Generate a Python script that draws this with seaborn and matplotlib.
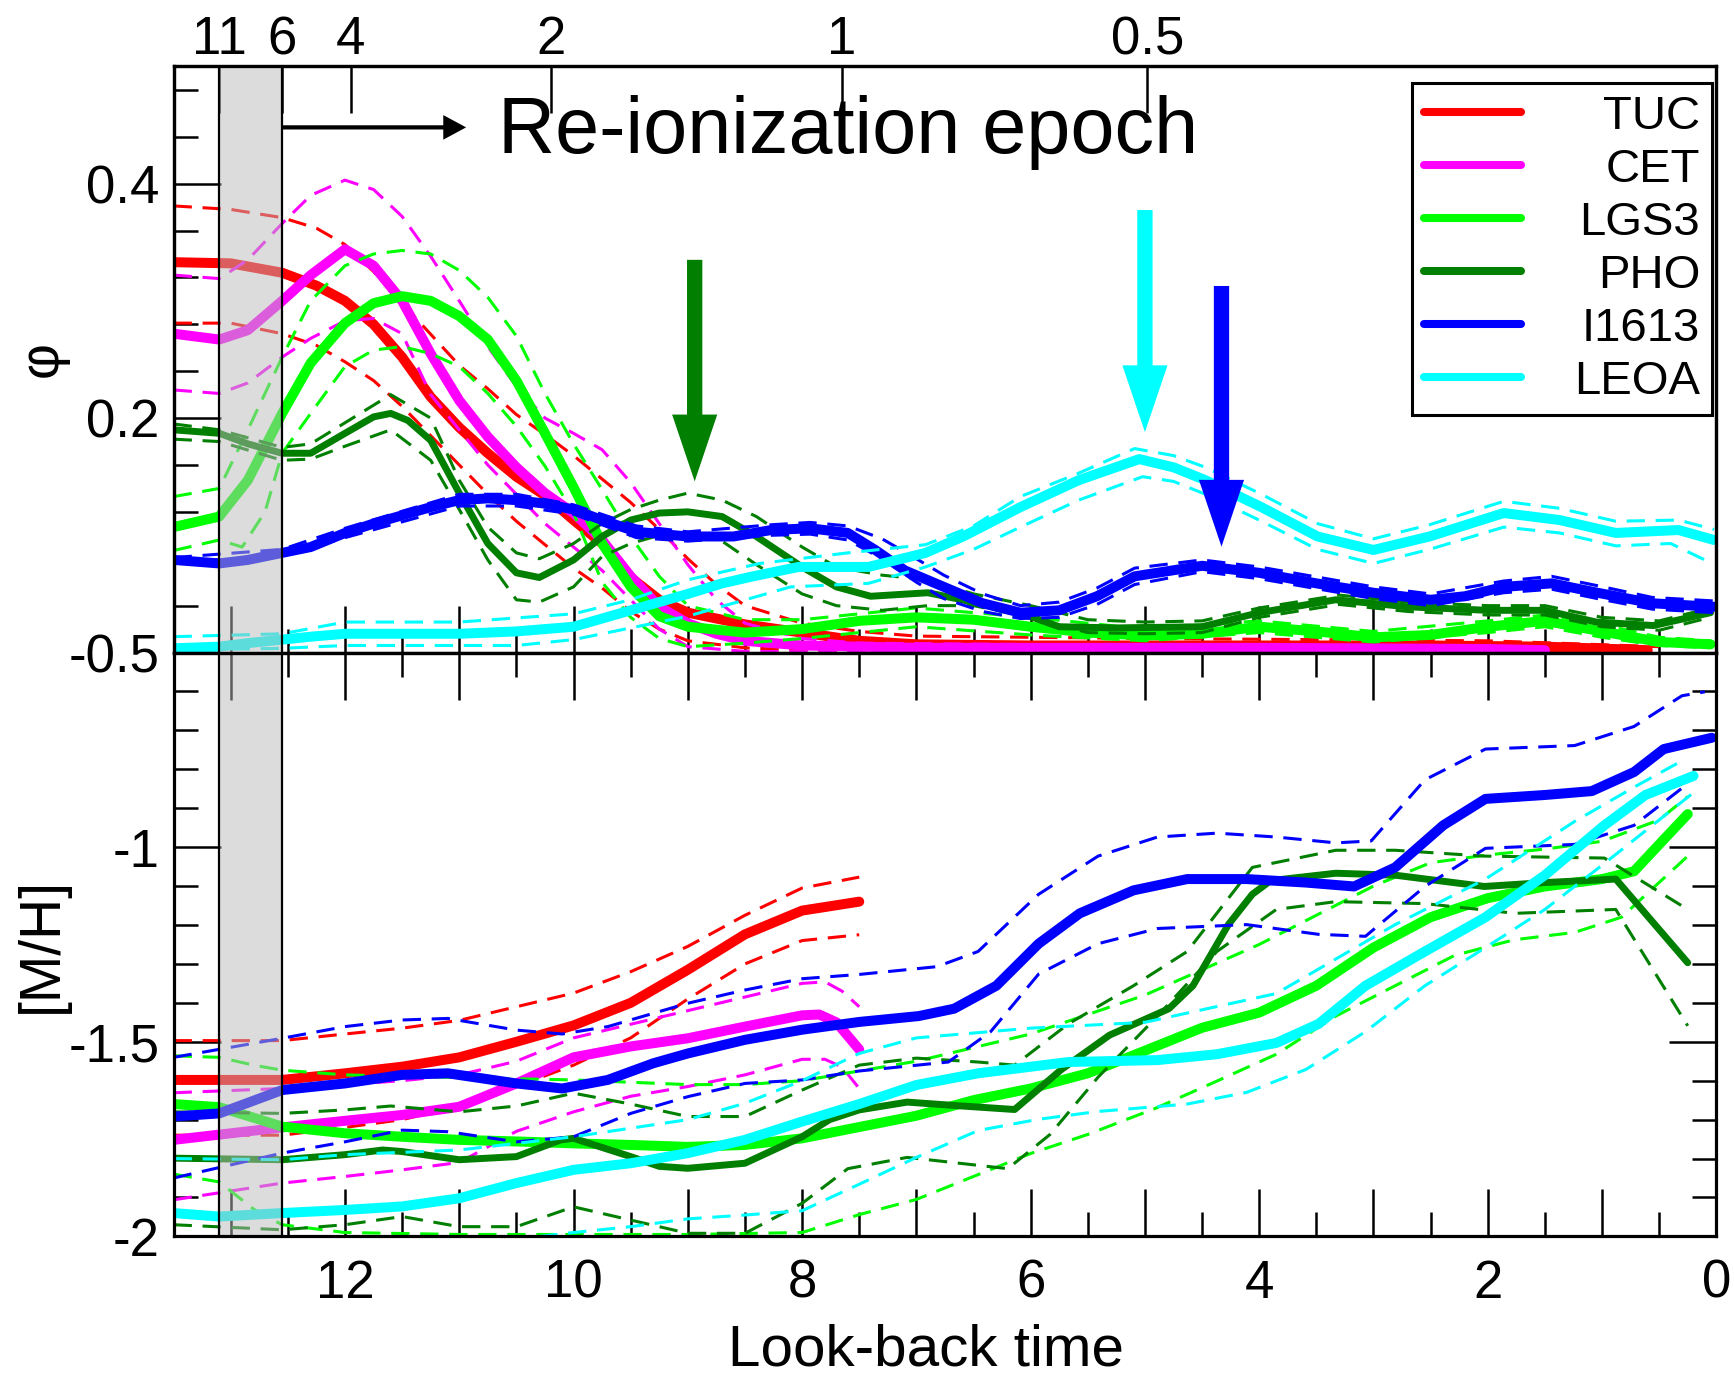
import matplotlib
matplotlib.use("Agg")
import matplotlib.pyplot as plt
from matplotlib.lines import Line2D
from matplotlib.ticker import MultipleLocator, FuncFormatter, NullLocator
import seaborn as sns

sns.set_theme(style="white")
plt.rcParams["font.family"] = ["Liberation Sans", "DejaVu Sans"]
plt.rcParams["axes.unicode_minus"] = False
for key in ("text.color", "axes.labelcolor", "xtick.color", "ytick.color", "axes.edgecolor"):
    plt.rcParams[key] = "black"

# ---------------- data (look-back time [Gyr], value) ----------------
names = ["TUC", "CET", "LGS3", "PHO", "I1613", "LEOA"]
colors = ["#ff0000", "#ff00ff", "#00ff00", "#007f00", "#0000ff", "#00ffff"]

# top axis: redshift labels and their look-back times
z_labels = ["11", "6", "4", "2", "1", "0.5"]
z_lookback = [13.1, 12.55, 11.95, 10.2, 7.65, 4.98]
reion_start, reion_end = 13.1, 12.55

# star formation rate phi
tuc_phi = [(13.5, 0.333), (13.0, 0.332), (12.55, 0.324), (12.25, 0.313), (12.0, 0.300), (11.75, 0.280),
           (11.5, 0.252), (11.25, 0.218), (11.0, 0.192), (10.75, 0.170), (10.5, 0.150), (10.25, 0.134),
           (10.0, 0.113), (9.75, 0.093), (9.5, 0.064), (9.25, 0.045), (9.0, 0.034), (8.5, 0.024),
           (8.0, 0.017), (7.5, 0.010), (7.0, 0.007), (6.0, 0.006), (4.0, 0.006), (2.5, 0.006),
           (1.5, 0.005), (0.6, 0.002)]
tuc_phi_hi = [(13.5, 0.381), (13.0, 0.378), (12.55, 0.371), (12.25, 0.362), (12.0, 0.348), (11.75, 0.325),
              (11.5, 0.298), (11.0, 0.245), (10.75, 0.225), (10.5, 0.203), (10.25, 0.186), (10.0, 0.168),
              (9.75, 0.148), (9.5, 0.128), (9.25, 0.105), (9.0, 0.080), (8.75, 0.058), (8.5, 0.040),
              (8.0, 0.025), (7.5, 0.018), (7.0, 0.014), (5.0, 0.012), (2.0, 0.010), (0.5, 0.005)]
tuc_phi_lo = [(13.5, 0.281), (13.0, 0.281), (12.55, 0.272), (12.25, 0.262), (12.0, 0.248), (11.75, 0.232),
              (11.5, 0.210), (11.25, 0.185), (11.0, 0.160), (10.75, 0.135), (10.5, 0.112), (10.25, 0.092),
              (10.0, 0.072), (9.75, 0.055), (9.5, 0.035), (9.25, 0.020), (9.0, 0.010), (8.5, 0.004),
              (8.0, 0.002), (7.0, 0.001), (0.5, 0.0)]

cet_phi = [(13.5, 0.272), (13.1, 0.267), (12.85, 0.275), (12.55, 0.300), (12.3, 0.322), (12.0, 0.344),
           (11.75, 0.330), (11.5, 0.300), (11.25, 0.255), (11.0, 0.215), (10.75, 0.184), (10.5, 0.158),
           (10.25, 0.136), (10.0, 0.119), (9.75, 0.096), (9.5, 0.065), (9.25, 0.039), (9.0, 0.025),
           (8.75, 0.016), (8.5, 0.010), (8.0, 0.006), (7.0, 0.004), (4.0, 0.004), (2.0, 0.003), (1.5, 0.002)]
cet_phi_hi = [(13.5, 0.322), (13.1, 0.319), (12.85, 0.335), (12.55, 0.366), (12.3, 0.390), (12.0, 0.403),
              (11.75, 0.395), (11.5, 0.372), (11.25, 0.338), (11.0, 0.300), (10.75, 0.261), (10.5, 0.227),
              (10.25, 0.200), (10.0, 0.187), (9.75, 0.173), (9.5, 0.145), (9.25, 0.110), (9.0, 0.075),
              (8.75, 0.045), (8.5, 0.025), (8.0, 0.012), (7.5, 0.008), (5.0, 0.006), (2.0, 0.005)]
cet_phi_lo = [(13.5, 0.224), (13.1, 0.221), (12.85, 0.230), (12.55, 0.252), (12.3, 0.268), (12.0, 0.283),
              (11.75, 0.285), (11.5, 0.272), (11.25, 0.220), (11.0, 0.190), (10.75, 0.160), (10.5, 0.135),
              (10.25, 0.110), (10.0, 0.090), (9.75, 0.070), (9.5, 0.045), (9.25, 0.020), (9.0, 0.005),
              (8.5, 0.001), (7.0, 0.0)]

lgs3_phi = [(13.5, 0.107), (13.1, 0.116), (12.85, 0.147), (12.55, 0.204), (12.3, 0.247), (12.0, 0.281),
            (11.75, 0.298), (11.5, 0.304), (11.25, 0.300), (11.0, 0.287), (10.75, 0.267), (10.5, 0.232),
            (10.25, 0.187), (10.0, 0.141), (9.75, 0.093), (9.5, 0.056), (9.25, 0.031), (9.0, 0.022),
            (8.5, 0.017), (8.0, 0.020), (7.5, 0.027), (7.0, 0.030), (6.5, 0.028), (6.0, 0.022),
            (5.5, 0.017), (5.0, 0.0145), (4.5, 0.016), (4.0, 0.022), (3.5, 0.018), (3.0, 0.013),
            (2.5, 0.015), (2.0, 0.022), (1.5, 0.027), (1.0, 0.018), (0.5, 0.009), (0.05, 0.007)]
lgs3_phi_hi = [(13.5, 0.133), (13.1, 0.140), (12.85, 0.190), (12.55, 0.252), (12.3, 0.300), (12.0, 0.330),
               (11.75, 0.340), (11.5, 0.343), (11.25, 0.340), (11.0, 0.326), (10.75, 0.303), (10.5, 0.270),
               (10.25, 0.221), (10.0, 0.178), (9.75, 0.139), (9.5, 0.099), (9.25, 0.065), (9.0, 0.040),
               (8.5, 0.028), (8.0, 0.028), (7.0, 0.038), (6.0, 0.030), (5.0, 0.020), (4.0, 0.027),
               (3.0, 0.018), (2.0, 0.027), (1.5, 0.032), (1.0, 0.024), (0.5, 0.013), (0.05, 0.010)]
lgs3_phi_lo = [(13.5, 0.087), (13.1, 0.096), (12.9, 0.090), (12.7, 0.120), (12.55, 0.170), (12.3, 0.204),
               (12.0, 0.244), (11.75, 0.258), (11.5, 0.261), (11.25, 0.255), (11.0, 0.244), (10.75, 0.221),
               (10.5, 0.193), (10.25, 0.159), (10.0, 0.119), (9.75, 0.060), (9.5, 0.030), (9.25, 0.012),
               (9.0, 0.005), (8.5, 0.008), (8.0, 0.012), (7.0, 0.022), (6.0, 0.015), (5.0, 0.010),
               (4.0, 0.017), (3.0, 0.009), (2.0, 0.017), (1.5, 0.022), (1.0, 0.013), (0.5, 0.006), (0.05, 0.004)]

pho_phi = [(13.5, 0.190), (13.1, 0.187), (12.85, 0.178), (12.55, 0.170), (12.3, 0.170), (12.0, 0.187),
           (11.75, 0.201), (11.6, 0.204), (11.45, 0.198), (11.25, 0.181), (11.0, 0.136), (10.75, 0.093),
           (10.5, 0.068), (10.3, 0.064), (10.0, 0.079), (9.75, 0.099), (9.5, 0.113), (9.25, 0.119),
           (9.0, 0.120), (8.7, 0.116), (8.4, 0.099), (8.0, 0.073), (7.7, 0.056), (7.4, 0.048),
           (6.9, 0.051), (6.6, 0.045), (6.1, 0.034), (5.75, 0.022), (5.25, 0.021), (4.5, 0.022),
           (4.0, 0.034), (3.33, 0.045), (2.7, 0.039), (2.0, 0.036), (1.5, 0.036), (1.05, 0.026),
           (0.55, 0.023), (0.05, 0.034)]
pho_phi_hi = [(13.5, 0.195), (13.1, 0.190), (12.55, 0.175), (12.3, 0.178), (12.0, 0.196), (11.6, 0.220),
              (11.25, 0.200), (11.0, 0.147), (10.75, 0.107), (10.5, 0.085), (10.3, 0.080), (10.0, 0.093),
              (9.75, 0.110), (9.5, 0.122), (9.25, 0.130), (9.0, 0.136), (8.7, 0.130), (8.4, 0.116),
              (8.0, 0.090), (7.7, 0.073), (7.3, 0.066), (6.9, 0.062), (6.5, 0.050), (6.0, 0.040),
              (5.5, 0.028), (5.0, 0.026), (4.5, 0.027), (4.0, 0.038), (3.3, 0.049), (2.7, 0.043),
              (2.0, 0.040), (1.5, 0.040), (1.0, 0.030), (0.5, 0.027), (0.05, 0.038)]
pho_phi_lo = [(13.5, 0.182), (13.1, 0.180), (12.55, 0.164), (12.3, 0.165), (12.0, 0.176), (11.6, 0.190),
              (11.25, 0.164), (11.0, 0.122), (10.75, 0.079), (10.5, 0.045), (10.3, 0.043), (10.0, 0.056),
              (9.75, 0.082), (9.5, 0.093), (9.25, 0.100), (9.0, 0.100), (8.7, 0.095), (8.4, 0.075),
              (8.0, 0.050), (7.7, 0.040), (7.3, 0.036), (6.9, 0.040), (6.5, 0.040), (6.0, 0.030),
              (5.5, 0.017), (5.0, 0.016), (4.5, 0.017), (4.0, 0.030), (3.3, 0.041), (2.7, 0.035),
              (2.0, 0.032), (1.5, 0.032), (1.0, 0.022), (0.5, 0.019), (0.05, 0.030)]

i1613_phi = [(13.5, 0.079), (13.1, 0.076), (12.85, 0.079), (12.55, 0.085), (12.3, 0.090), (12.0, 0.102),
             (11.75, 0.110), (11.43, 0.119), (11.25, 0.124), (11.0, 0.130), (10.75, 0.1315), (10.5, 0.130),
             (10.25, 0.127), (10.0, 0.122), (9.75, 0.113), (9.45, 0.103), (9.0, 0.099), (8.6, 0.099),
             (8.27, 0.1045), (7.93, 0.106), (7.6, 0.102), (7.36, 0.0875), (7.1, 0.070), (6.76, 0.056),
             (6.42, 0.042), (6.09, 0.034), (5.75, 0.036), (5.42, 0.048), (5.09, 0.065), (4.5, 0.074),
             (4.0, 0.068), (3.5, 0.059), (3.0, 0.051), (2.5, 0.045), (2.2, 0.048), (1.86, 0.056),
             (1.44, 0.059), (1.04, 0.051), (0.56, 0.042), (0.02, 0.039)]
i1613_phi_hi = [(13.5, 0.081), (12.55, 0.088), (12.0, 0.106), (11.0, 0.135), (10.5, 0.135), (10.0, 0.126),
                (9.45, 0.108), (9.0, 0.103), (8.27, 0.109), (7.93, 0.111), (7.6, 0.108), (7.3, 0.097),
                (7.0, 0.080), (6.76, 0.066), (6.42, 0.050), (6.09, 0.040), (5.75, 0.043), (5.42, 0.055),
                (5.09, 0.072), (4.5, 0.079), (4.0, 0.073), (3.0, 0.056), (2.5, 0.050), (1.86, 0.061),
                (1.44, 0.065), (1.04, 0.057), (0.56, 0.047), (0.02, 0.044)]
i1613_phi_lo = [(13.5, 0.077), (12.55, 0.082), (12.0, 0.098), (11.0, 0.125), (10.5, 0.125), (10.0, 0.118),
                (9.45, 0.098), (9.0, 0.095), (8.27, 0.100), (7.93, 0.101), (7.6, 0.096), (7.3, 0.080),
                (7.0, 0.060), (6.76, 0.046), (6.42, 0.035), (6.09, 0.029), (5.75, 0.030), (5.42, 0.041),
                (5.09, 0.058), (4.5, 0.069), (4.0, 0.063), (3.0, 0.046), (2.5, 0.040), (1.86, 0.051),
                (1.44, 0.054), (1.04, 0.046), (0.56, 0.037), (0.02, 0.034)]

leoa_phi = [(13.5, 0.0036), (13.1, 0.005), (12.85, 0.008), (12.55, 0.011), (12.3, 0.0135), (12.0, 0.016),
            (11.0, 0.016), (10.5, 0.018), (10.0, 0.022), (9.5, 0.036), (9.0, 0.050), (8.7, 0.059),
            (8.43, 0.065), (8.03, 0.073), (7.42, 0.073), (6.92, 0.085), (6.59, 0.099), (6.09, 0.124),
            (5.58, 0.147), (5.05, 0.165), (4.75, 0.158), (4.47, 0.147), (3.98, 0.124), (3.49, 0.099),
            (3.0, 0.0875), (2.51, 0.099), (1.86, 0.119), (1.37, 0.113), (0.88, 0.102), (0.33, 0.1045),
            (0.02, 0.096)]
leoa_phi_hi = [(13.5, 0.0135), (12.55, 0.016), (12.0, 0.026), (11.0, 0.026), (10.0, 0.033), (9.5, 0.045),
               (9.0, 0.062), (8.37, 0.076), (7.6, 0.085), (6.92, 0.092), (6.5, 0.108), (6.09, 0.133),
               (5.58, 0.153), (5.09, 0.174), (4.75, 0.168), (4.47, 0.158), (3.98, 0.135), (3.49, 0.110),
               (3.0, 0.097), (2.51, 0.109), (1.86, 0.129), (1.37, 0.123), (0.88, 0.112), (0.33, 0.113),
               (0.02, 0.105)]
leoa_phi_lo = [(13.5, 0.002), (12.55, 0.0036), (12.0, 0.006), (10.5, 0.006), (10.0, 0.011), (9.0, 0.031),
               (8.1, 0.056), (7.42, 0.059), (6.92, 0.073), (6.5, 0.088), (6.09, 0.107), (5.58, 0.130),
               (5.02, 0.150), (4.75, 0.146), (4.47, 0.135), (3.98, 0.112), (3.49, 0.088), (3.0, 0.076),
               (2.51, 0.088), (1.86, 0.107), (1.37, 0.102), (0.88, 0.091), (0.4, 0.093), (0.1, 0.079)]

# metallicity [M/H]
tuc_mh = [(13.5, -1.598), (12.55, -1.598), (12.0, -1.581), (11.5, -1.564), (11.0, -1.540), (10.5, -1.500),
          (10.0, -1.458), (9.5, -1.400), (9.0, -1.315), (8.5, -1.224), (8.0, -1.163), (7.5, -1.140)]
tuc_mh_hi = [(13.5, -1.497), (12.55, -1.497), (12.0, -1.480), (11.5, -1.465), (11.0, -1.445), (10.5, -1.410),
             (10.0, -1.375), (9.5, -1.320), (9.0, -1.255), (8.5, -1.175), (8.0, -1.105), (7.5, -1.077)]
tuc_mh_lo = [(13.5, -1.740), (12.55, -1.740), (12.0, -1.720), (11.5, -1.700), (11.0, -1.665), (10.5, -1.615),
             (10.0, -1.560), (9.5, -1.490), (9.0, -1.390), (8.5, -1.300), (8.0, -1.240), (7.5, -1.225)]

cet_mh = [(13.5, -1.752), (12.55, -1.720), (12.0, -1.703), (11.5, -1.688), (11.0, -1.667), (10.5, -1.607),
          (10.0, -1.540), (9.5, -1.512), (9.0, -1.491), (8.5, -1.461), (8.0, -1.432), (7.85, -1.430),
          (7.7, -1.450), (7.5, -1.520)]
cet_mh_hi = [(13.5, -1.631), (12.55, -1.620), (12.0, -1.610), (11.5, -1.600), (11.0, -1.585), (10.5, -1.550),
             (10.0, -1.490), (9.5, -1.455), (9.0, -1.420), (8.5, -1.385), (8.0, -1.350), (7.8, -1.346),
             (7.65, -1.370), (7.5, -1.410)]
cet_mh_lo = [(13.5, -1.906), (12.55, -1.863), (12.0, -1.846), (11.5, -1.829), (11.0, -1.810), (10.5, -1.730),
             (10.0, -1.680), (9.5, -1.640), (9.0, -1.615), (8.5, -1.585), (8.0, -1.545), (7.8, -1.545),
             (7.65, -1.565), (7.5, -1.620)]

lgs3_mh = [(13.5, -1.660), (13.1, -1.668), (12.8, -1.695), (12.55, -1.718), (12.0, -1.735), (11.5, -1.744),
           (11.0, -1.752), (10.5, -1.756), (10.0, -1.761), (9.5, -1.765), (9.0, -1.770), (8.5, -1.765),
           (8.0, -1.748), (7.5, -1.719), (7.0, -1.690), (6.5, -1.650), (6.0, -1.620), (5.5, -1.581),
           (5.0, -1.523), (4.5, -1.464), (4.0, -1.425), (3.5, -1.356), (3.0, -1.258), (2.5, -1.180),
           (2.0, -1.131), (1.5, -1.101), (1.0, -1.082), (0.72, -1.062), (0.5, -0.993), (0.25, -0.915)]
lgs3_mh_hi = [(13.5, -1.536), (13.1, -1.540), (12.8, -1.560), (12.55, -1.573), (12.0, -1.585), (11.0, -1.592),
              (10.0, -1.598), (9.0, -1.610), (8.5, -1.610), (8.0, -1.600), (7.5, -1.575), (7.0, -1.550),
              (6.0, -1.480), (5.0, -1.380), (4.0, -1.250), (3.0, -1.100), (2.5, -1.040), (2.0, -1.020),
              (1.5, -1.005), (1.0, -0.985), (0.5, -0.930), (0.25, -0.870)]
lgs3_mh_lo = [(13.5, -1.840), (13.1, -1.860), (12.8, -1.930), (12.55, -1.970), (12.0, -1.990), (11.0, -1.995),
              (10.0, -1.995), (9.0, -1.995), (8.0, -1.990), (7.5, -1.944), (7.0, -1.905), (6.5, -1.846),
              (6.0, -1.787), (5.5, -1.738), (4.9, -1.670), (4.37, -1.601), (3.85, -1.532), (3.33, -1.434),
              (2.81, -1.356), (2.29, -1.278), (1.77, -1.238), (1.24, -1.219), (0.83, -1.180), (0.25, -1.023)]

pho_mh = [(13.5, -1.799), (12.55, -1.803), (12.0, -1.790), (11.67, -1.778), (11.5, -1.782), (11.0, -1.803),
          (10.5, -1.795), (10.11, -1.752), (10.0, -1.748), (9.5, -1.795), (9.25, -1.820), (9.0, -1.825),
          (8.5, -1.812), (8.0, -1.744), (7.76, -1.700), (7.5, -1.675), (7.08, -1.655), (6.6, -1.665),
          (6.14, -1.674), (5.73, -1.571), (5.31, -1.483), (4.79, -1.415), (4.58, -1.356), (4.27, -1.199),
          (4.06, -1.121), (3.9, -1.086), (3.33, -1.067), (2.81, -1.072), (2.03, -1.101), (1.5, -1.091),
          (0.88, -1.082), (0.25, -1.297)]
pho_mh_hi = [(13.5, -1.680), (12.55, -1.684), (12.0, -1.675), (11.6, -1.665), (11.0, -1.680), (10.5, -1.665),
             (10.0, -1.632), (9.5, -1.660), (9.0, -1.692), (8.5, -1.692), (8.0, -1.624), (7.5, -1.560),
             (7.0, -1.542), (6.46, -1.552), (6.14, -1.560), (5.67, -1.454), (5.1, -1.356), (4.63, -1.268),
             (4.06, -1.052), (3.33, -1.008), (2.81, -1.008), (2.03, -1.023), (0.98, -1.028), (0.25, -1.160)]
pho_mh_lo = [(13.5, -1.970), (12.55, -1.983), (12.0, -1.970), (11.5, -1.949), (11.0, -1.975), (10.5, -1.975),
             (10.0, -1.924), (9.5, -1.958), (9.0, -1.992), (8.5, -1.992), (8.0, -1.915), (7.6, -1.826),
             (7.08, -1.797), (6.2, -1.826), (5.83, -1.738), (5.41, -1.591), (4.89, -1.434), (4.37, -1.268),
             (3.85, -1.160), (3.33, -1.140), (2.55, -1.145), (1.76, -1.170), (0.88, -1.160), (0.25, -1.459)]

i1613_mh = [(13.5, -1.692), (13.1, -1.684), (12.55, -1.624), (12.0, -1.607), (11.5, -1.585), (11.1, -1.581),
            (10.5, -1.607), (10.1, -1.620), (9.7, -1.598), (9.3, -1.555), (9.0, -1.530), (8.5, -1.495),
            (8.0, -1.469), (7.5, -1.449), (6.98, -1.434), (6.67, -1.415), (6.3, -1.356), (5.93, -1.248),
            (5.57, -1.170), (5.1, -1.111), (4.63, -1.082), (4.11, -1.082), (3.59, -1.091), (3.17, -1.101),
            (2.81, -1.052), (2.39, -0.944), (2.02, -0.876), (1.5, -0.866), (1.09, -0.856), (0.72, -0.807),
            (0.46, -0.748), (0.04, -0.719)]
i1613_mh_hi = [(13.5, -1.540), (12.55, -1.491), (12.0, -1.461), (11.5, -1.444), (11.1, -1.440), (10.5, -1.470),
               (10.1, -1.480), (9.7, -1.461), (9.0, -1.401), (8.5, -1.367), (8.0, -1.338), (7.5, -1.327),
               (6.82, -1.307), (6.46, -1.268), (5.93, -1.121), (5.41, -1.023), (4.89, -0.974), (4.37, -0.964),
               (3.85, -0.974), (3.33, -0.989), (3.02, -0.984), (2.55, -0.827), (2.02, -0.748), (1.24, -0.739),
               (0.72, -0.690), (0.3, -0.611), (0.1, -0.601)]
i1613_mh_lo = [(13.5, -1.850), (12.55, -1.786), (12.0, -1.757), (11.5, -1.727), (11.1, -1.731), (10.5, -1.757),
               (10.0, -1.744), (9.5, -1.684), (9.0, -1.641), (8.5, -1.607), (8.0, -1.598), (7.5, -1.575),
               (6.72, -1.552), (6.35, -1.474), (5.93, -1.326), (5.41, -1.248), (4.89, -1.209), (4.11, -1.199),
               (3.48, -1.224), (3.07, -1.229), (2.55, -1.101), (2.02, -1.003), (1.24, -0.993), (0.72, -0.944),
               (0.25, -0.837)]

leoa_mh = [(13.5, -1.940), (13.1, -1.949), (12.55, -1.940), (12.0, -1.932), (11.5, -1.923), (11.0, -1.902),
           (10.5, -1.863), (10.0, -1.829), (9.5, -1.812), (9.0, -1.786), (8.5, -1.752), (8.0, -1.705),
           (7.5, -1.660), (7.0, -1.611), (6.46, -1.581), (5.67, -1.552), (4.89, -1.547), (4.37, -1.532),
           (3.85, -1.503), (3.48, -1.454), (3.07, -1.356), (2.55, -1.268), (2.02, -1.180), (1.5, -1.072),
           (0.98, -0.944), (0.62, -0.866), (0.2, -0.817)]
leoa_mh_hi = [(13.5, -1.800), (12.55, -1.803), (12.0, -1.790), (11.0, -1.778), (10.0, -1.744), (9.0, -1.700),
              (8.5, -1.658), (8.0, -1.600), (7.5, -1.530), (7.0, -1.490), (6.0, -1.465), (5.0, -1.450),
              (3.85, -1.376), (2.81, -1.199), (2.02, -1.082), (1.24, -0.934), (0.72, -0.846), (0.3, -0.778)]
leoa_mh_lo = [(10.3, -2.000), (10.0, -1.990), (9.5, -1.975), (9.0, -1.955), (8.5, -1.945), (8.0, -1.934),
              (7.5, -1.866), (7.0, -1.797), (6.46, -1.728), (5.93, -1.699), (5.41, -1.679), (4.63, -1.660),
              (4.11, -1.630), (3.59, -1.571), (3.07, -1.474), (2.55, -1.356), (2.02, -1.258), (1.5, -1.160),
              (0.98, -1.042), (0.5, -0.930), (0.2, -0.860)]

# arrows marking the bursts
arrow_t = [8.94, 5.0, 4.33]
arrow_tail = [0.335, 0.3775, 0.3127]
arrow_tip = [0.146, 0.188, 0.0903]
arrow_colors = ["#007f00", "#00ffff", "#0000ff"]

phi_sets = [(tuc_phi, tuc_phi_hi, tuc_phi_lo), (cet_phi, cet_phi_hi, cet_phi_lo),
            (lgs3_phi, lgs3_phi_hi, lgs3_phi_lo), (pho_phi, pho_phi_hi, pho_phi_lo),
            (i1613_phi, i1613_phi_hi, i1613_phi_lo), (leoa_phi, leoa_phi_hi, leoa_phi_lo)]
mh_sets = [(tuc_mh, tuc_mh_hi, tuc_mh_lo), (cet_mh, cet_mh_hi, cet_mh_lo),
           (lgs3_mh, lgs3_mh_hi, lgs3_mh_lo), (pho_mh, pho_mh_hi, pho_mh_lo),
           (i1613_mh, i1613_mh_hi, i1613_mh_lo), (leoa_mh, leoa_mh_hi, leoa_mh_lo)]
main_lw = [7.2, 7.2, 7.2, 5.0, 7.2, 7.2]


def draw(ax, pts, color, lw, dashed=False):
    t = [p[0] for p in pts]
    v = [p[1] for p in pts]
    kw = dict(linestyle=(0, (6, 3.5))) if dashed else {}
    sns.lineplot(x=t, y=v, ax=ax, color=color, lw=lw, sort=False, estimator=None,
                 legend=False, zorder=2, **kw)


fig = plt.figure(figsize=(17.34, 13.81), dpi=100)
ax1 = fig.add_axes([0.1001, 0.5275, 0.8897, 0.4244])
ax2 = fig.add_axes([0.1001, 0.1047, 0.8897, 0.4228])

for ax, sets in ((ax1, phi_sets), (ax2, mh_sets)):
    for (main, hi, lo), c, lw in zip(sets, colors, main_lw):
        draw(ax, hi, c, 2.2, dashed=True)
        draw(ax, lo, c, 2.2, dashed=True)
        draw(ax, main, c, lw)

# common styling
tick_major = dict(which="major", direction="in", length=33.5, width=1.8, labelsize=38, colors="black")
tick_minor = dict(which="minor", direction="in", length=17, width=1.8, colors="black")
for ax in (ax1, ax2):
    ax.set_xlim(13.5, 0)
    ax.xaxis.set_major_locator(MultipleLocator(1))
    ax.xaxis.set_minor_locator(MultipleLocator(0.5))
    ax.tick_params(**tick_major)
    ax.tick_params(**tick_minor)
    ax.tick_params(axis="x", pad=16)
    ax.tick_params(axis="y", pad=10)
    for s in ax.spines.values():
        s.set_linewidth(2.3)
        s.set_color("black")
        s.set_zorder(4)
    ax.set_xlabel("")
    ax.set_ylabel("")

# top panel
ax1.set_ylim(0, 0.5)
ax1.yaxis.set_major_locator(MultipleLocator(0.2))
ax1.yaxis.set_minor_locator(MultipleLocator(0.04))
ax1.yaxis.set_major_formatter(FuncFormatter(lambda v, p: "" if abs(v) < 1e-9 else f"{v:g}"))
ax1.tick_params(axis="x", which="both", bottom=True, top=False, labelbottom=False)
ax1.tick_params(axis="y", which="both", left=True, right=False)
ax1.set_ylabel("φ", fontsize=40, color="black")
ax1.yaxis.set_label_coords(-0.068, 0.5)

for t, t0, t1, c in zip(arrow_t, arrow_tail, arrow_tip, arrow_colors):
    ax1.arrow(t, t0, 0, t1 - t0, width=0.134, head_width=0.395, head_length=0.057,
              length_includes_head=True, color=c, lw=0, zorder=3)

ax1.arrow(reion_end, 0.448, 10.94 - reion_end, 0, width=0.0036, head_width=0.021, head_length=0.2,
          length_includes_head=True, color="black", lw=0, zorder=3)
ax1.text(10.66, 0.4261, "Re-ionization epoch", fontsize=57, ha="left", va="baseline",
         color="black", zorder=3)

handles = [Line2D([], [], color=c, lw=5.8) for c in colors]
leg = ax1.legend(handles, names, loc="upper right", bbox_to_anchor=(0.9972, 0.9717),
                 borderaxespad=0, fontsize=34, handlelength=2.05, handletextpad=0.5,
                 labelspacing=0.19, borderpad=0.25, frameon=True, fancybox=False,
                 edgecolor="black", framealpha=1, labelcolor="black")
leg.get_frame().set_linewidth(2.2)
item_w = 276 * fig.dpi / 100
for col in leg._legend_handle_box.get_children():
    for item in col.get_children():
        item.mode = "expand"
        item.width = item_w

# redshift axis on top, with the re-ionization band drawn over the lines
ax1t = ax1.twiny()
ax1t.set_xlim(13.5, 0)
ax1t.set_xticks(z_lookback, labels=z_labels)
ax1t.xaxis.set_minor_locator(NullLocator())
ax1t.tick_params(axis="x", which="major", direction="in", length=33.5, width=1.8,
                 labelsize=38, pad=1, colors="black")
for s in ax1t.spines.values():
    s.set_linewidth(2.3)
    s.set_color("black")
    s.set_zorder(4)
ax1t.axvspan(reion_start, reion_end, color=(0.73, 0.73, 0.73), alpha=0.5, lw=0, zorder=2)
for t in (reion_start, reion_end):
    ax1t.axvline(t, color="black", lw=1.6, zorder=2.2)

# bottom panel
ax2.set_ylim(-2, -0.5)
ax2.yaxis.set_major_locator(MultipleLocator(0.5))
ax2.yaxis.set_minor_locator(MultipleLocator(0.1))
ax2.yaxis.set_major_formatter(FuncFormatter(lambda v, p: f"{v:g}"))
ax2.xaxis.set_major_formatter(FuncFormatter(lambda v, p: f"{int(round(v))}" if round(v) % 2 == 0 else ""))
ax2.tick_params(axis="x", which="both", bottom=True, top=True)
ax2.tick_params(axis="y", which="both", left=True, right=True)
ax2.axvspan(reion_start, reion_end, color=(0.73, 0.73, 0.73), alpha=0.5, lw=0, zorder=3)
for t in (reion_start, reion_end):
    ax2.axvline(t, color="black", lw=1.6, zorder=3.2)
ax2.set_ylabel("[M/H]", fontsize=41, color="black")
ax2.yaxis.set_label_coords(-0.068, 0.5)
ax2.set_xlabel("Look-back time", fontsize=42, color="black")
ax2.xaxis.set_label_coords(0.488, -0.15)

fig.savefig("out.png", dpi=100)
